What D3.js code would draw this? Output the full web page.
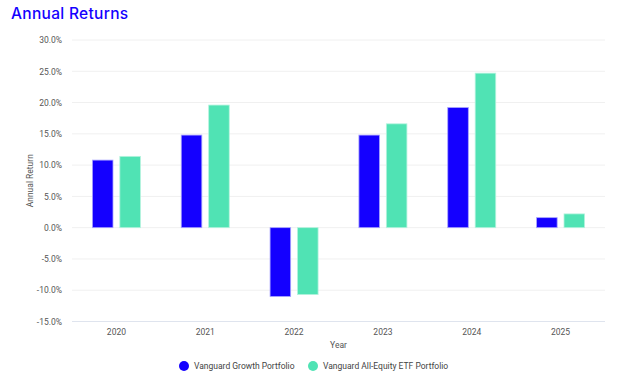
<!DOCTYPE html>
<html lang="en">
<head>
<meta charset="utf-8">
<title>Annual Returns</title>
<script src="https://cdn.jsdelivr.net/npm/d3@7"></script>
<style>
  body { margin: 0; background: #fff; }
  .axis text { font-family: Roboto, sans-serif; font-size: 8.5px; fill: #555; }
  .axis path, .axis line { display: none; }
</style>
</head>
<body>
<script>
// data
var years = ["2020", "2021", "2022", "2023", "2024", "2025"];
var seriesNames = ["Vanguard Growth Portfolio", "Vanguard All-Equity ETF Portfolio"];
var growth = [10.8, 14.8, -11.0, 14.8, 19.2, 1.6];
var allEquity = [11.4, 19.6, -10.7, 16.6, 24.7, 2.2];
var yTicks = [-15, -10, -5, 0, 5, 10, 15, 20, 25, 30];
var colors = ["#1400ff", "#50e3b4"];

var w = 624, h = 384;
var plotLeft = 72, plotRight = 605, plotTop = 40, plotBottom = 321.5;

var svg = d3.select("body").append("svg")
  .attr("width", w).attr("height", h);

var xScale = d3.scaleBand().domain(years).range([plotLeft, plotRight]);
var inner = d3.scaleBand().domain(d3.range(2)).range([0, 48]).paddingInner(0.25);
var yScale = d3.scaleLinear().domain([-15, 30]).range([plotBottom, plotTop]);

// title
svg.append("text")
  .attr("x", 11).attr("y", 19)
  .attr("font-family", "Inter, sans-serif")
  .attr("font-size", "15.5px")
  .attr("font-weight", 500)
  .attr("letter-spacing", "0.3px")
  .attr("fill", "#1400ff")
  .text("Annual Returns");

// gridlines
svg.append("g").selectAll("line")
  .data(yTicks)
  .enter().append("line")
  .attr("x1", plotLeft).attr("x2", plotRight)
  .attr("y1", d => yScale(d)).attr("y2", d => yScale(d))
  .attr("stroke", d => d === -15 ? "#dfe4ee" : "#f0f0f0")
  .attr("stroke-width", 1);

// y axis
var yAxis = d3.axisLeft(yScale)
  .tickValues(yTicks)
  .tickFormat(d => d.toFixed(1) + "%")
  .tickSize(0).tickPadding(0);
svg.append("g").attr("class", "axis")
  .attr("transform", "translate(62,0)")
  .call(yAxis);

// x axis
var xAxis = d3.axisBottom(xScale).tickSize(0).tickPadding(7);
svg.append("g").attr("class", "axis")
  .attr("transform", "translate(0," + plotBottom + ")")
  .call(xAxis);

// axis titles
svg.append("text")
  .attr("transform", "translate(33," + ((plotTop + plotBottom) / 2) + ") rotate(-90)")
  .attr("text-anchor", "middle")
  .attr("font-family", "Roboto, sans-serif")
  .attr("font-size", "8.5px")
  .attr("fill", "#555")
  .text("Annual Return");

svg.append("text")
  .attr("x", (plotLeft + plotRight) / 2).attr("y", 348)
  .attr("text-anchor", "middle")
  .attr("font-family", "Roboto, sans-serif")
  .attr("font-size", "8.5px")
  .attr("fill", "#555")
  .text("Year");

// bars
var series = [growth, allEquity];
series.forEach(function(vals, s) {
  svg.append("g").selectAll("rect")
    .data(vals)
    .enter().append("rect")
    .attr("x", (d, i) => xScale(years[i]) + (xScale.bandwidth() - 48) / 2 + inner(s))
    .attr("y", d => yScale(Math.max(0, d)))
    .attr("width", inner.bandwidth())
    .attr("height", d => Math.abs(yScale(d) - yScale(0)))
    .attr("fill", colors[s])
    .attr("stroke", s === 0 ? "#a9a3ff" : "#b5f3de")
    .attr("stroke-width", 0.8);
});

// legend
var legendX = [184, 313];
var legend = svg.append("g").selectAll("g")
  .data(seriesNames)
  .enter().append("g")
  .attr("transform", (d, i) => "translate(" + legendX[i] + ",366)");
legend.append("circle")
  .attr("r", 5)
  .attr("fill", (d, i) => colors[i]);
legend.append("text")
  .attr("x", 10).attr("y", 3)
  .attr("font-family", "Roboto, sans-serif")
  .attr("font-size", "8.5px")
  .attr("fill", "#444")
  .text(d => d);
</script>
</body>
</html>
